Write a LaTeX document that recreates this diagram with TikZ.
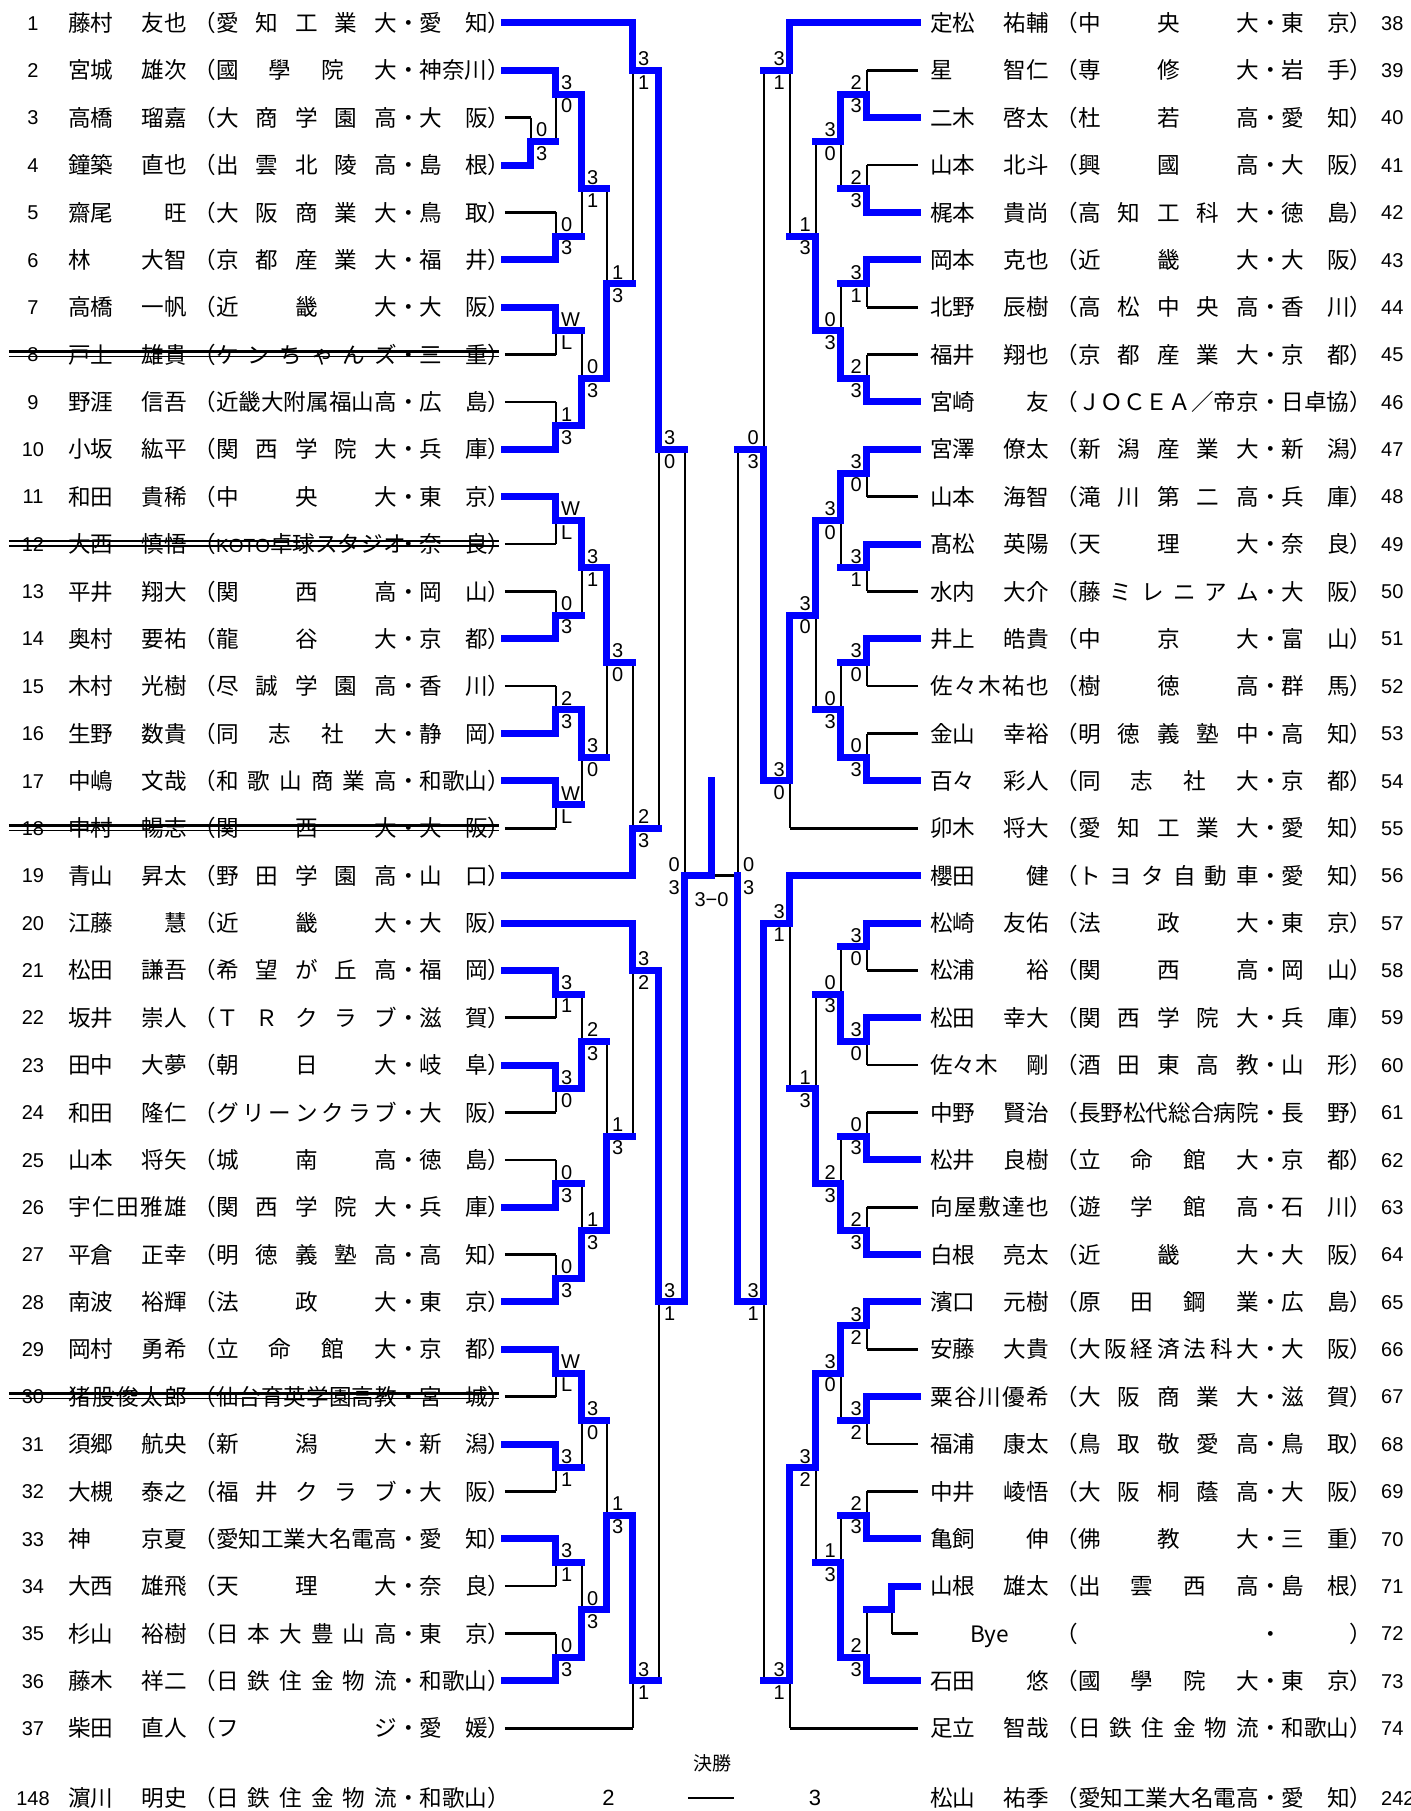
\documentclass[tikz,border=0pt]{standalone}
\usepackage{fontspec}
\usepackage{tikz}
\usepackage{xcolor}
\newfontfamily\jpfont{Noto Sans CJK JP}
\newfontfamily\lsfont{Liberation Sans}
\definecolor{winblue}{HTML}{0000FF}
\pgfdeclarelayer{bg}
\pgfsetlayers{bg,main}

\newcommand{\namefont}{\jpfont\fontsize{22.6}{24}\selectfont\spaceskip=0pt plus 1fil\relax}
\newcommand{\numfont}{\lsfont\fontsize{20}{22}\selectfont}
\newcommand{\scorefont}{\lsfont\fontsize{20}{22}\selectfont}
\newcommand{\titlefont}{\jpfont\fontsize{19}{21}\selectfont}

% bracket columns (left half, right half, centre)
\newcommand{\LA}{531}\newcommand{\LB}{556}\newcommand{\LC}{582}\newcommand{\LD}{607}
\newcommand{\LE}{633}\newcommand{\LF}{659}\newcommand{\LG}{685}
\newcommand{\RA}{892}\newcommand{\RB}{867}\newcommand{\RC}{841}\newcommand{\RD}{816}
\newcommand{\RE}{790}\newcommand{\RF}{764}\newcommand{\RG}{738}
\newcommand{\MID}{711.5}

\newcommand{\ptext}[3]{\makebox[119pt][s]{#1}\hspace{6.4pt}（\makebox[181pt][s]{#2}・\makebox[68pt][s]{#3}）}

% player rows: number, name, club, prefecture, first column, line style
\newcommand{\lp}[6]{%
  \node[num] (n#1) at (33,#1) {#1};
  \node[pname] (p#1) at (68,#1) {\ptext{#2}{#3}{#4}};
  \coordinate (t#1) at (505,#1);
  \draw[#6] (t#1) -- (#5,#1);}
\newcommand{\rp}[6]{%
  \node[num,anchor=base west] (n#1) at (1381,#1-37) {#1};
  \node[pname] (p#1) at (930,#1-37) {\ptext{#2}{#3}{#4}};
  \coordinate (t#1) at (918,#1-37);
  \draw[#6] (t#1) -- (#5,#1-37);}

% one match: column, next column, top, bottom, junction, scores, winner t/b, label side
\newcount\boutno
\newcommand{\bout}[9]{%
  \global\advance\boutno by 1
  \begin{pgfonlayer}{bg}\draw[lose] (#1,#3) -- (#1,#4);\end{pgfonlayer}
  \if t#8\draw[win] (#1,#3) -- (#1,#5) -- (#2,#5);\else\draw[win] (#1,#4) -- (#1,#5) -- (#2,#5);\fi
  \node[score,#9,yshift=4.5pt] (m\the\boutno u) at (#1,#5) {#6};
  \node[score,#9,yshift=-18.8pt] (m\the\boutno d) at (#1,#5) {#7};}

\newcommand{\strike}[1]{%
  \draw[lose,yshift=3pt] (9,#1) -- (499,#1);
  \draw[line width=1.2pt,yshift=-2pt] (9,#1) -- (499,#1);}

\begin{document}
\begin{tikzpicture}[x=1pt, y=-47.37pt,
    win/.style={line width=7pt, color=winblue, line cap=rect},
    lose/.style={line width=2.6pt, color=black},
    pname/.style={anchor=base west, inner sep=0pt, yshift=-8.6pt, font=\namefont},
    num/.style={anchor=base, inner sep=0pt, yshift=-7.2pt, font=\numfont},
    score/.style={inner sep=0pt, font=\scorefont},
    sl/.style={anchor=base west, xshift=5pt},
    sr/.style={anchor=base east, xshift=-5pt}
  ]
    \useasboundingbox (0,0.5145) rectangle (1411,38.7465);

    % left half
    \lp{1}{藤村 友也}{愛 知 工 業 大}{愛 知}{\LE}{win}
    \lp{2}{宮城 雄次}{國 學 院 大}{神奈川}{\LB}{win}
    \lp{3}{高橋 瑠嘉}{大 商 学 園 高}{大 阪}{\LA}{lose}
    \lp{4}{鐘築 直也}{出 雲 北 陵 高}{島 根}{\LA}{win}
    \lp{5}{齋尾 旺}{大 阪 商 業 大}{鳥 取}{\LB}{lose}
    \lp{6}{林 大智}{京 都 産 業 大}{福 井}{\LB}{win}
    \lp{7}{高橋 一帆}{近 畿 大}{大 阪}{\LB}{win}
    \lp{8}{戸上 雄貴}{ケ ン ち ゃ ん ズ}{三 重}{\LB}{lose}
    \lp{9}{野涯 信吾}{近畿大附属福山高}{広 島}{\LB}{lose}
    \lp{10}{小坂 紘平}{関 西 学 院 大}{兵 庫}{\LB}{win}
    \lp{11}{和田 貴稀}{中 央 大}{東 京}{\LB}{win}
    \lp{12}{大西 慎悟}{{\lsfont\fontsize{19}{20}\selectfont K O T O} 卓 球 ス タ ジ オ}{奈 良}{\LB}{lose}
    \lp{13}{平井 翔大}{関 西 高}{岡 山}{\LB}{lose}
    \lp{14}{奥村 要祐}{龍 谷 大}{京 都}{\LB}{win}
    \lp{15}{木村 光樹}{尽 誠 学 園 高}{香 川}{\LB}{lose}
    \lp{16}{生野 数貴}{同 志 社 大}{静 岡}{\LB}{win}
    \lp{17}{中嶋 文哉}{和 歌 山 商 業 高}{和歌山}{\LB}{win}
    \lp{18}{中村 暢志}{関 西 大}{大 阪}{\LB}{lose}
    \lp{19}{青山 昇太}{野 田 学 園 高}{山 口}{\LE}{win}
    \lp{20}{江藤 慧}{近 畿 大}{大 阪}{\LE}{win}
    \lp{21}{松田 謙吾}{希 望 が 丘 高}{福 岡}{\LB}{win}
    \lp{22}{坂井 崇人}{Ｔ Ｒ ク ラ ブ}{滋 賀}{\LB}{lose}
    \lp{23}{田中 大夢}{朝 日 大}{岐 阜}{\LB}{win}
    \lp{24}{和田 隆仁}{グ リ ー ン ク ラ ブ}{大 阪}{\LB}{lose}
    \lp{25}{山本 将矢}{城 南 高}{徳 島}{\LB}{lose}
    \lp{26}{宇 仁 田 雅 雄}{関 西 学 院 大}{兵 庫}{\LB}{win}
    \lp{27}{平倉 正幸}{明 徳 義 塾 高}{高 知}{\LB}{lose}
    \lp{28}{南波 裕輝}{法 政 大}{東 京}{\LB}{win}
    \lp{29}{岡村 勇希}{立 命 館 大}{京 都}{\LB}{win}
    \lp{30}{猪 股 俊 太 郎}{仙台育英学園高教}{宮 城}{\LB}{lose}
    \lp{31}{須郷 航央}{新 潟 大}{新 潟}{\LB}{win}
    \lp{32}{大槻 泰之}{福 井 ク ラ ブ}{大 阪}{\LB}{lose}
    \lp{33}{神 京夏}{愛知工業大名電高}{愛 知}{\LB}{win}
    \lp{34}{大西 雄飛}{天 理 大}{奈 良}{\LB}{lose}
    \lp{35}{杉山 裕樹}{日 本 大 豊 山 高}{東 京}{\LB}{lose}
    \lp{36}{藤木 祥二}{日 鉄 住 金 物 流}{和歌山}{\LB}{win}
    \lp{37}{柴田 直人}{フ ジ}{愛 媛}{\LE}{lose}
    \strike{8}
    \strike{12}
    \strike{18}
    \strike{30}

    % right half
    \rp{38}{定松 祐輔}{中 央 大}{東 京}{\RE}{win}
    \rp{39}{星 智仁}{専 修 大}{岩 手}{\RB}{lose}
    \rp{40}{二木 啓太}{杜 若 高}{愛 知}{\RB}{win}
    \rp{41}{山本 北斗}{興 國 高}{大 阪}{\RB}{lose}
    \rp{42}{梶本 貴尚}{高 知 工 科 大}{徳 島}{\RB}{win}
    \rp{43}{岡本 克也}{近 畿 大}{大 阪}{\RB}{win}
    \rp{44}{北野 辰樹}{高 松 中 央 高}{香 川}{\RB}{lose}
    \rp{45}{福井 翔也}{京 都 産 業 大}{京 都}{\RB}{lose}
    \rp{46}{宮崎 友}{ＪＯＣＥＡ／帝京}{日卓協}{\RB}{win}
    \rp{47}{宮澤 僚太}{新 潟 産 業 大}{新 潟}{\RB}{win}
    \rp{48}{山本 海智}{滝 川 第 二 高}{兵 庫}{\RB}{lose}
    \rp{49}{髙松 英陽}{天 理 大}{奈 良}{\RB}{win}
    \rp{50}{水内 大介}{藤 ミ レ ニ ア ム}{大 阪}{\RB}{lose}
    \rp{51}{井上 皓貴}{中 京 大}{富 山}{\RB}{win}
    \rp{52}{佐 々 木 祐 也}{樹 徳 高}{群 馬}{\RB}{lose}
    \rp{53}{金山 幸裕}{明 徳 義 塾 中}{高 知}{\RB}{lose}
    \rp{54}{百々 彩人}{同 志 社 大}{京 都}{\RB}{win}
    \rp{55}{卯木 将大}{愛 知 工 業 大}{愛 知}{\RE}{lose}
    \rp{56}{櫻田 健}{ト ヨ タ 自 動 車}{愛 知}{\RE}{win}
    \rp{57}{松崎 友佑}{法 政 大}{東 京}{\RB}{win}
    \rp{58}{松浦 裕}{関 西 高}{岡 山}{\RB}{lose}
    \rp{59}{松田 幸大}{関 西 学 院 大}{兵 庫}{\RB}{win}
    \rp{60}{佐々木 剛}{酒 田 東 高 教}{山 形}{\RB}{lose}
    \rp{61}{中野 賢治}{長野松代総合病院}{長 野}{\RB}{lose}
    \rp{62}{松井 良樹}{立 命 館 大}{京 都}{\RB}{win}
    \rp{63}{向 屋 敷 達 也}{遊 学 館 高}{石 川}{\RB}{lose}
    \rp{64}{白根 亮太}{近 畿 大}{大 阪}{\RB}{win}
    \rp{65}{濱口 元樹}{原 田 鋼 業}{広 島}{\RB}{win}
    \rp{66}{安藤 大貴}{大 阪 経 済 法 科 大}{大 阪}{\RB}{lose}
    \rp{67}{粟 谷 川 優 希}{大 阪 商 業 大}{滋 賀}{\RB}{win}
    \rp{68}{福浦 康太}{鳥 取 敬 愛 高}{鳥 取}{\RB}{lose}
    \rp{69}{中井 崚悟}{大 阪 桐 蔭 高}{大 阪}{\RB}{lose}
    \rp{70}{亀飼 伸}{佛 教 大}{三 重}{\RB}{win}
    \rp{71}{山根 雄太}{出 雲 西 高}{島 根}{\RA}{win}
    \rp{72}{\hfill Bye\hfill}{}{}{\RA}{lose}
    \rp{73}{石田 悠}{國 學 院 大}{東 京}{\RB}{win}
    \rp{74}{足立 智哉}{日 鉄 住 金 物 流}{和歌山}{\RE}{lose}

    % left bracket
    \bout{\LA}{\LB}{3}{4}{3.5}{0}{3}{b}{sl}
    \bout{\LB}{\LC}{2}{3.5}{2.5}{3}{0}{t}{sl}
    \bout{\LB}{\LC}{5}{6}{5.5}{0}{3}{b}{sl}
    \bout{\LC}{\LD}{2.5}{5.5}{4.5}{3}{1}{t}{sl}
    \bout{\LB}{\LC}{7}{8}{7.5}{W}{L}{t}{sl}
    \bout{\LB}{\LC}{9}{10}{9.5}{1}{3}{b}{sl}
    \bout{\LC}{\LD}{7.5}{9.5}{8.5}{0}{3}{b}{sl}
    \bout{\LD}{\LE}{4.5}{8.5}{6.5}{1}{3}{b}{sl}
    \bout{\LE}{\LF}{1}{6.5}{2}{3}{1}{t}{sl}
    \bout{\LB}{\LC}{11}{12}{11.5}{W}{L}{t}{sl}
    \bout{\LB}{\LC}{13}{14}{13.5}{0}{3}{b}{sl}
    \bout{\LC}{\LD}{11.5}{13.5}{12.5}{3}{1}{t}{sl}
    \bout{\LB}{\LC}{15}{16}{15.5}{2}{3}{b}{sl}
    \bout{\LB}{\LC}{17}{18}{17.5}{W}{L}{t}{sl}
    \bout{\LC}{\LD}{15.5}{17.5}{16.5}{3}{0}{t}{sl}
    \bout{\LD}{\LE}{12.5}{16.5}{14.5}{3}{0}{t}{sl}
    \bout{\LE}{\LF}{14.5}{19}{18}{2}{3}{b}{sl}
    \bout{\LF}{\LG}{2}{18}{10}{3}{0}{t}{sl}
    \bout{\LB}{\LC}{21}{22}{21.5}{3}{1}{t}{sl}
    \bout{\LB}{\LC}{23}{24}{23.5}{3}{0}{t}{sl}
    \bout{\LC}{\LD}{21.5}{23.5}{22.5}{2}{3}{b}{sl}
    \bout{\LB}{\LC}{25}{26}{25.5}{0}{3}{b}{sl}
    \bout{\LB}{\LC}{27}{28}{27.5}{0}{3}{b}{sl}
    \bout{\LC}{\LD}{25.5}{27.5}{26.5}{1}{3}{b}{sl}
    \bout{\LD}{\LE}{22.5}{26.5}{24.5}{1}{3}{b}{sl}
    \bout{\LE}{\LF}{20}{24.5}{21}{3}{2}{t}{sl}
    \bout{\LB}{\LC}{29}{30}{29.5}{W}{L}{t}{sl}
    \bout{\LB}{\LC}{31}{32}{31.5}{3}{1}{t}{sl}
    \bout{\LC}{\LD}{29.5}{31.5}{30.5}{3}{0}{t}{sl}
    \bout{\LB}{\LC}{33}{34}{33.5}{3}{1}{t}{sl}
    \bout{\LB}{\LC}{35}{36}{35.5}{0}{3}{b}{sl}
    \bout{\LC}{\LD}{33.5}{35.5}{34.5}{0}{3}{b}{sl}
    \bout{\LD}{\LE}{30.5}{34.5}{32.5}{1}{3}{b}{sl}
    \bout{\LE}{\LF}{32.5}{37}{36}{3}{1}{t}{sl}
    \bout{\LF}{\LG}{21}{36}{28}{3}{1}{t}{sl}

    % right bracket
    \bout{\RB}{\RC}{2}{3}{2.5}{2}{3}{b}{sr}
    \bout{\RB}{\RC}{4}{5}{4.5}{2}{3}{b}{sr}
    \bout{\RC}{\RD}{2.5}{4.5}{3.5}{3}{0}{t}{sr}
    \bout{\RB}{\RC}{6}{7}{6.5}{3}{1}{t}{sr}
    \bout{\RB}{\RC}{8}{9}{8.5}{2}{3}{b}{sr}
    \bout{\RC}{\RD}{6.5}{8.5}{7.5}{0}{3}{b}{sr}
    \bout{\RD}{\RE}{3.5}{7.5}{5.5}{1}{3}{b}{sr}
    \bout{\RE}{\RF}{1}{5.5}{2}{3}{1}{t}{sr}
    \bout{\RB}{\RC}{10}{11}{10.5}{3}{0}{t}{sr}
    \bout{\RB}{\RC}{12}{13}{12.5}{3}{1}{t}{sr}
    \bout{\RC}{\RD}{10.5}{12.5}{11.5}{3}{0}{t}{sr}
    \bout{\RB}{\RC}{14}{15}{14.5}{3}{0}{t}{sr}
    \bout{\RB}{\RC}{16}{17}{16.5}{0}{3}{b}{sr}
    \bout{\RC}{\RD}{14.5}{16.5}{15.5}{0}{3}{b}{sr}
    \bout{\RD}{\RE}{11.5}{15.5}{13.5}{3}{0}{t}{sr}
    \bout{\RE}{\RF}{13.5}{18}{17}{3}{0}{t}{sr}
    \bout{\RF}{\RG}{2}{17}{10}{0}{3}{b}{sr}
    \bout{\RB}{\RC}{20}{21}{20.5}{3}{0}{t}{sr}
    \bout{\RB}{\RC}{22}{23}{22.5}{3}{0}{t}{sr}
    \bout{\RC}{\RD}{20.5}{22.5}{21.5}{0}{3}{b}{sr}
    \bout{\RB}{\RC}{24}{25}{24.5}{0}{3}{b}{sr}
    \bout{\RB}{\RC}{26}{27}{26.5}{2}{3}{b}{sr}
    \bout{\RC}{\RD}{24.5}{26.5}{25.5}{2}{3}{b}{sr}
    \bout{\RD}{\RE}{21.5}{25.5}{23.5}{1}{3}{b}{sr}
    \bout{\RE}{\RF}{19}{23.5}{20}{3}{1}{t}{sr}
    \bout{\RB}{\RC}{28}{29}{28.5}{3}{2}{t}{sr}
    \bout{\RB}{\RC}{30}{31}{30.5}{3}{2}{t}{sr}
    \bout{\RC}{\RD}{28.5}{30.5}{29.5}{3}{0}{t}{sr}
    \bout{\RB}{\RC}{32}{33}{32.5}{2}{3}{b}{sr}
    \bout{\RA}{\RB}{34}{35}{34.5}{}{}{t}{sr}
    \bout{\RB}{\RC}{34.5}{36}{35.5}{2}{3}{b}{sr}
    \bout{\RC}{\RD}{32.5}{35.5}{33.5}{1}{3}{b}{sr}
    \bout{\RD}{\RE}{29.5}{33.5}{31.5}{3}{2}{t}{sr}
    \bout{\RE}{\RF}{31.5}{37}{36}{3}{1}{t}{sr}
    \bout{\RF}{\RG}{20}{36}{28}{3}{1}{t}{sr}

    % semifinals and final
    \begin{pgfonlayer}{bg}
      \draw[lose] (\RG,10) -- (\RG,28);
      \draw[lose] (\RG,19) -- (\MID,19);
    \end{pgfonlayer}
    \draw[win] (\RG,28) -- (\RG,19);
    \node[score,sl,yshift=4.5pt] (rsu) at (\RG,19) {0};
    \node[score,sl,yshift=-18.8pt] (rsd) at (\RG,19) {3};
    \bout{\LG}{\MID}{10}{28}{19}{0}{3}{b}{sr}
    \draw[win] (\MID,19) -- (\MID,17);
    \node[score] (fin) at (\MID,19.5) {3−0};

    % final of the other draw
    \node[anchor=base, inner sep=0pt, yshift=-7.2pt, font=\titlefont] (kesho) at (712.5,37.73) {決勝};
    \node[num] (n148) at (33,38.47) {148};
    \node[pname] (p148) at (68,38.47) {\ptext{濵川 明史}{日 鉄 住 金 物 流}{和歌山}};
    \node[num,font=\lsfont\fontsize{22}{24}\selectfont,yshift=-0.7pt] (g148) at (608.5,38.47) {2};
    \node[inner sep=0pt] (dash) at (711,38.47) {\rule{46pt}{2.6pt}};
    \node[num,font=\lsfont\fontsize{22}{24}\selectfont,yshift=-0.7pt] (g242) at (815,38.47) {3};
    \node[pname] (p242) at (930,38.47) {\ptext{松山 祐季}{愛知工業大名電高}{愛 知}};
    \node[num,anchor=base west] (n242) at (1381,38.47) {242};
  \end{tikzpicture}
\end{document}
